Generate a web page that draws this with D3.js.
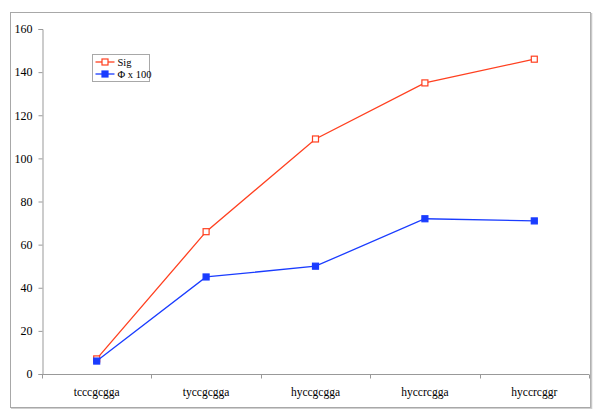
<!DOCTYPE html>
<html>
<head>
<meta charset="utf-8">
<script src="https://cdn.jsdelivr.net/npm/d3@7"></script>
<style>
  body { margin: 0; background: #fff; }
</style>
</head>
<body>
<div id="chart"></div>
<script>
'use strict'

const categories = ['tcccgcgga', 'tyccgcgga', 'hyccgcgga', 'hyccrcgga', 'hyccrcggr']
const sigValues = [7, 66, 109, 135, 146]
const phiValues = [6, 45, 50, 72, 71]
const yTicks = [0, 20, 40, 60, 80, 100, 120, 140, 160]

const width = 600
const height = 419
const margin = { top: 29, right: 11, bottom: 45, left: 42 }
const serif = 'Liberation Serif'

const svg = d3.select('#chart').append('svg')
  .attr('width', width)
  .attr('height', height)
  .attr('font-family', serif)

// outer frame
svg.append('rect')
  .attr('x', 10.5).attr('y', 12.5)
  .attr('width', 580).attr('height', 395)
  .attr('fill', 'none')
  .attr('stroke', '#a8a8a8')
  .attr('stroke-width', 1)
svg.append('line')
  .attr('x1', 591.5).attr('x2', 591.5).attr('y1', 13).attr('y2', 409)
  .attr('stroke', '#c8c8c8').attr('stroke-width', 1.5)
svg.append('line')
  .attr('x1', 11).attr('x2', 592).attr('y1', 408.5).attr('y2', 408.5)
  .attr('stroke', '#d0d0d0').attr('stroke-width', 1)

const x = d3.scaleBand()
  .domain(categories)
  .range([margin.left, width - margin.right])

const y = d3.scaleLinear()
  .domain([0, 160])
  .range([height - margin.bottom, margin.top])

const axisColor = '#999'

// y axis
const yAxis = svg.append('g')
  .attr('transform', `translate(${margin.left + 0.5},0)`)
  .call(d3.axisLeft(y).tickValues(yTicks).tickSize(4).tickPadding(6))
yAxis.attr('font-family', serif).attr('font-size', 12)
yAxis.selectAll('path, line').attr('stroke', axisColor)
yAxis.selectAll('text').attr('fill', '#000')

// x axis with ticks at category boundaries
const xBase = y(0) + 0.5
svg.append('line')
  .attr('x1', margin.left).attr('x2', width - margin.right)
  .attr('y1', xBase).attr('y2', xBase)
  .attr('stroke', axisColor)
const bounds = categories.map(c => x(c)).concat([x(categories[categories.length - 1]) + x.bandwidth()])
svg.selectAll('.xtick')
  .data(bounds)
  .enter()
  .append('line')
    .attr('x1', d => Math.round(d) + 0.5).attr('x2', d => Math.round(d) + 0.5)
    .attr('y1', xBase).attr('y2', xBase + 4)
    .attr('stroke', axisColor)
svg.selectAll('.xlabel')
  .data(categories)
  .enter()
  .append('text')
    .attr('x', d => x(d) + x.bandwidth() / 2)
    .attr('y', xBase + 21)
    .attr('text-anchor', 'middle')
    .attr('font-size', 11.5)
    .text(d => d)

const series = [
  { name: 'Sig', values: sigValues, color: '#ff4020', filled: false },
  { name: 'Φ x 100', values: phiValues, color: '#1a3cff', filled: true }
]

const line = d3.line()
  .x((d, i) => x(categories[i]) + x.bandwidth() / 2)
  .y(d => y(d))

series.forEach(s => {
  svg.append('path')
    .datum(s.values)
    .attr('d', line)
    .attr('fill', 'none')
    .attr('stroke', s.color)
    .attr('stroke-width', 1.3)
  svg.selectAll(null)
    .data(s.values)
    .enter()
    .append('rect')
      .attr('x', (d, i) => x(categories[i]) + x.bandwidth() / 2 - 3)
      .attr('y', d => y(d) - 3)
      .attr('width', 6).attr('height', 6)
      .attr('fill', s.filled ? s.color : '#fff')
      .attr('stroke', s.color)
      .attr('stroke-width', 1.2)
})

// legend
const legend = svg.append('g').attr('transform', 'translate(92.5,54.5)')
legend.append('rect')
  .attr('width', 57).attr('height', 27)
  .attr('fill', '#fff')
  .attr('stroke', '#a8a8a8')
series.forEach((s, i) => {
  const ly = 7.5 + i * 12
  legend.append('line')
    .attr('x1', 3).attr('x2', 22).attr('y1', ly).attr('y2', ly)
    .attr('stroke', s.color).attr('stroke-width', 1.3)
  legend.append('rect')
    .attr('x', 9.5).attr('y', ly - 3).attr('width', 6).attr('height', 6)
    .attr('fill', s.filled ? s.color : '#fff')
    .attr('stroke', s.color).attr('stroke-width', 1.2)
  legend.append('text')
    .attr('x', 25).attr('y', ly + 3.5)
    .attr('font-size', 10.5)
    .text(s.name)
})
</script>
</body>
</html>
